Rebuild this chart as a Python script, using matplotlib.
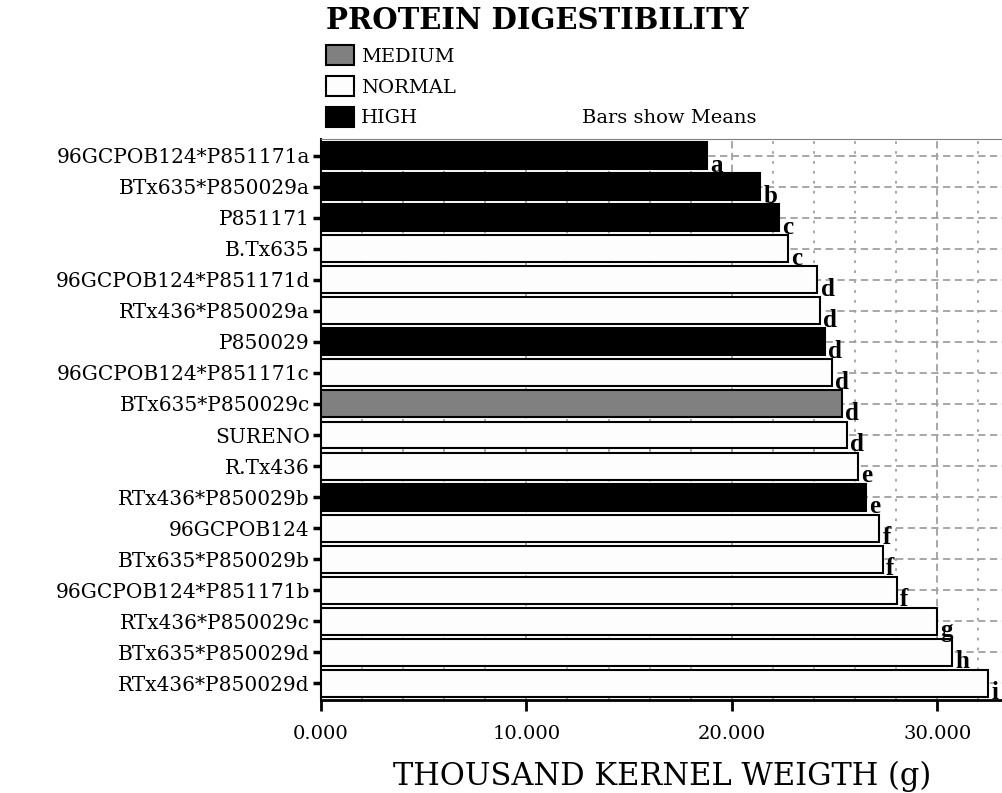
import matplotlib
matplotlib.use("Agg")
import matplotlib.pyplot as plt
from matplotlib.patches import Patch
from matplotlib.ticker import MultipleLocator, FormatStrFormatter

# genotypes, top to bottom
genotypes = [
    "96GCPOB124*P851171a", "BTx635*P850029a", "P851171", "B.Tx635",
    "96GCPOB124*P851171d", "RTx436*P850029a", "P850029", "96GCPOB124*P851171c",
    "BTx635*P850029c", "SURENO", "R.Tx436", "RTx436*P850029b",
    "96GCPOB124", "BTx635*P850029b", "96GCPOB124*P851171b", "RTx436*P850029c",
    "BTx635*P850029d", "RTx436*P850029d",
]
tkw = [18.78, 21.38, 22.31, 22.75, 24.17, 24.28, 24.54, 24.89, 25.37,
       25.59, 26.16, 26.55, 27.18, 27.34, 28.03, 30.00, 30.72, 32.47]
digest = ["HIGH", "HIGH", "HIGH", "NORMAL", "NORMAL", "NORMAL", "HIGH", "NORMAL",
          "MEDIUM", "NORMAL", "NORMAL", "HIGH", "NORMAL", "NORMAL", "NORMAL",
          "NORMAL", "NORMAL", "NORMAL"]
groups = ["a", "b", "c", "c", "d", "d", "d", "d", "d", "d", "e", "e",
          "f", "f", "f", "g", "h", "i"]

fills = {"MEDIUM": "#808080", "NORMAL": "#fdfdfd", "HIGH": "#000000"}
serif = "DejaVu Serif"

fig = plt.figure(figsize=(10.03, 7.93), dpi=100)
ax = fig.add_axes([0.32, 0.117, 0.68, 0.708])

ypos = list(range(len(genotypes)))
ax.barh(ypos, tkw, height=0.87, color=[fills[d] for d in digest],
        edgecolor="black", linewidth=1.5, zorder=3)

# mean-separation letters at the bar ends
for y, v, g in zip(ypos, tkw, groups):
    ax.text(v + 0.15, y + 0.3, g, ha="left", va="center", fontsize=18,
            fontweight="bold", family="Liberation Serif", zorder=4)

ax.set_xlim(0, 33.2)
ax.set_ylim(len(genotypes) - 0.45, -0.55)
ax.set_yticks(ypos)
ax.set_yticklabels(genotypes, family=serif, fontsize=14.5)
ax.xaxis.set_major_locator(MultipleLocator(10))
ax.xaxis.set_minor_locator(MultipleLocator(2))
ax.xaxis.set_major_formatter(FormatStrFormatter("%.3f"))
for lab in ax.get_xticklabels():
    lab.set_family(serif)
    lab.set_fontsize(14)

ax.tick_params(axis="y", which="major", length=6, width=2.5, pad=2)
ax.tick_params(axis="x", which="major", length=8, width=2, pad=10)
ax.tick_params(axis="x", which="minor", length=0)

ax.grid(axis="x", which="minor", color="#a0a0a0", linestyle=(0, (1.5, 4)), linewidth=1.3, zorder=0)
ax.grid(axis="x", which="major", color="#a0a0a0", linestyle=(0, (4, 2.5)), linewidth=1.3, zorder=0)
ax.grid(axis="y", which="major", color="#a0a0a0", linestyle=(0, (4, 2.5)), linewidth=1.3, zorder=0)
ax.set_axisbelow(True)

ax.spines["right"].set_visible(False)
ax.spines["top"].set_color("#808080")
ax.spines["left"].set_linewidth(1.5)
ax.spines["bottom"].set_linewidth(2)

ax.set_xlabel("THOUSAND KERNEL WEIGTH (g)", family=serif, fontsize=22, labelpad=13)

handles = [Patch(facecolor=fills[k], edgecolor="black", linewidth=1.5)
           for k in ["MEDIUM", "NORMAL", "HIGH"]]
leg = fig.legend(handles, ["MEDIUM", "NORMAL", "HIGH"], loc="upper left",
                 bbox_to_anchor=(0.312, 1.008), frameon=False, alignment="left",
                 title="PROTEIN DIGESTIBILITY",
                 title_fontproperties={"family": serif, "weight": "bold", "size": 21},
                 prop={"family": serif, "size": 14},
                 handlelength=1.45, handleheight=1.2, labelspacing=0.52,
                 handletextpad=0.35, borderpad=0.15)

fig.text(0.58, 0.851, "Bars show Means", family=serif, fontsize=14,
         ha="left", va="center")

fig.savefig("out.png", dpi=100)
